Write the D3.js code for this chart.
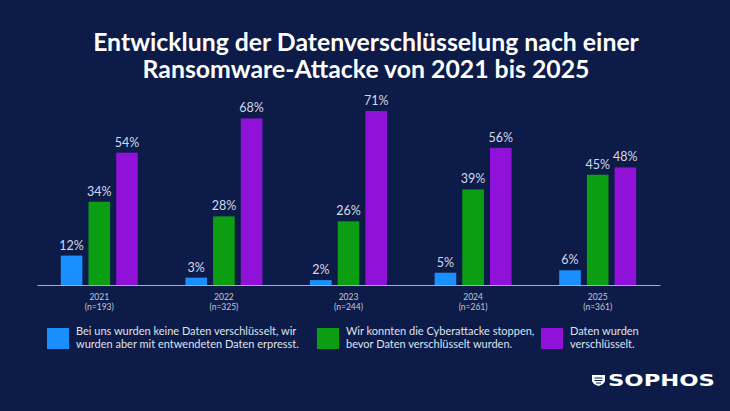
<!DOCTYPE html>
<html>
<head>
<meta charset="utf-8">
<script src="https://cdn.jsdelivr.net/npm/d3@7"></script>
<style>
  html, body { margin: 0; padding: 0; background: #0c1b48; }
  svg { display: block; }
</style>
</head>
<body>
<svg id="chart" width="730" height="411"></svg>
<script>
const years = ["2021", "2022", "2023", "2024", "2025"];
const sampleSizes = ["(n=193)", "(n=325)", "(n=244)", "(n=261)", "(n=361)"];
const seriesKeys = ["extorted", "stopped", "encrypted"];
const extorted = [12, 3, 2, 5, 6];
const stopped = [34, 28, 26, 39, 45];
const encrypted = [54, 68, 71, 56, 48];
const legendLabels = [
  ["Bei uns wurden keine Daten verschlüsselt, wir", "wurden aber mit entwendeten Daten erpresst."],
  ["Wir konnten die Cyberattacke stoppen,", "bevor Daten verschlüsselt wurden."],
  ["Daten wurden", "verschlüsselt."]
];
const titleLines = [
  "Entwicklung der Datenverschlüsselung nach einer",
  "Ransomware-Attacke von 2021 bis 2025"
];

const colors = {extorted: "#1a8fff", stopped: "#0b9e12", encrypted: "#9012d8"};
const font = "Lato, 'Open Sans', sans-serif";

const svg = d3.select("#chart");
const baseline = 285;

svg.append("rect").attr("width", 730).attr("height", 411).attr("fill", "#0c1b48");

// title
svg.append("g").selectAll("text")
  .data(titleLines)
  .enter().append("text")
  .attr("x", 366)
  .attr("y", (d, i) => 51 + i * 27)
  .attr("text-anchor", "middle")
  .attr("fill", "#ffffff")
  .attr("font-family", font)
  .attr("font-weight", "bold")
  .attr("font-size", 24.8)
  .text(d => d);

const rows = years.map((y, i) => ({
  year: y, n: sampleSizes[i],
  extorted: extorted[i], stopped: stopped[i], encrypted: encrypted[i]
}));

const x0 = d3.scaleBand().domain(years).range([37, 660]);
const x1 = d3.scaleBand().domain(seriesKeys).range([0, 77]).paddingInner(0.22);
const y = d3.scaleLinear().domain([0, 100]).range([baseline, baseline - 245]);

const groups = svg.append("g").selectAll("g")
  .data(rows)
  .enter().append("g")
  .attr("transform", d => `translate(${x0(d.year) + x0.bandwidth() / 2 - 38.5},0)`);

groups.selectAll("rect")
  .data(d => seriesKeys.map(k => ({key: k, value: d[k]})))
  .enter().append("rect")
  .attr("x", d => x1(d.key))
  .attr("y", d => y(d.value))
  .attr("width", x1.bandwidth())
  .attr("height", d => y(0) - y(d.value))
  .attr("fill", d => colors[d.key]);

groups.selectAll("text.val")
  .data(d => seriesKeys.map(k => ({key: k, value: d[k]})))
  .enter().append("text")
  .attr("class", "val")
  .attr("x", d => x1(d.key) + x1.bandwidth() / 2)
  .attr("y", d => y(d.value) - 6)
  .attr("text-anchor", "middle")
  .attr("fill", "#d4d9e8")
  .attr("font-family", font)
  .attr("font-size", 12.5)
  .text(d => d.value + "%");

// x axis
const xAxis = svg.append("g")
  .attr("transform", `translate(0,${baseline})`)
  .call(d3.axisBottom(x0).tickSize(0).tickPadding(0));
xAxis.select(".domain").attr("stroke", "#9fb0cc").attr("stroke-width", 1);
xAxis.selectAll(".tick text").remove();
xAxis.selectAll(".tick").each(function (d, i) {
  const t = d3.select(this).append("text")
    .attr("text-anchor", "middle")
    .attr("fill", "#c3cadb")
    .attr("font-family", font)
    .attr("font-size", 8.5);
  t.append("tspan").attr("x", 0).attr("y", 15).text(d);
  t.append("tspan").attr("x", 0).attr("y", 25).text(sampleSizes[i]);
});

// legend
const legendX = [47, 317, 541];
const legend = svg.append("g").selectAll("g")
  .data(seriesKeys)
  .enter().append("g")
  .attr("transform", (d, i) => `translate(${legendX[i]},328)`);
legend.append("rect")
  .attr("width", 22).attr("height", 21)
  .attr("fill", d => colors[d]);
legend.each(function (d, i) {
  const t = d3.select(this).append("text")
    .attr("fill", "#dfe3ee")
    .attr("font-family", font)
    .attr("font-size", 11);
  legendLabels[i].forEach((line, j) => {
    t.append("tspan").attr("x", 29).attr("y", 7 + j * 13).text(line);
  });
});

// logo
const logo = svg.append("g").attr("transform", "translate(592,375)");
logo.append("path")
  .attr("d", "M0,0 H13 V5 C13,8 10,10 6.5,11 C3,10 0,8 0,5 Z")
  .attr("fill", "#ffffff");
logo.append("path")
  .attr("d", "M2.5,3 H10.5 M2.5,5.5 H10.5 M4,8 H9")
  .attr("stroke", "#0c1b48").attr("stroke-width", 1.2);
logo.append("text")
  .attr("x", 16).attr("y", 11)
  .attr("fill", "#ffffff")
  .attr("font-family", "'DejaVu Sans', sans-serif")
  .attr("font-weight", "bold")
  .attr("font-size", 15)
  .attr("textLength", 107)
  .attr("lengthAdjust", "spacingAndGlyphs")
  .text("SOPHOS");
</script>
</body>
</html>
